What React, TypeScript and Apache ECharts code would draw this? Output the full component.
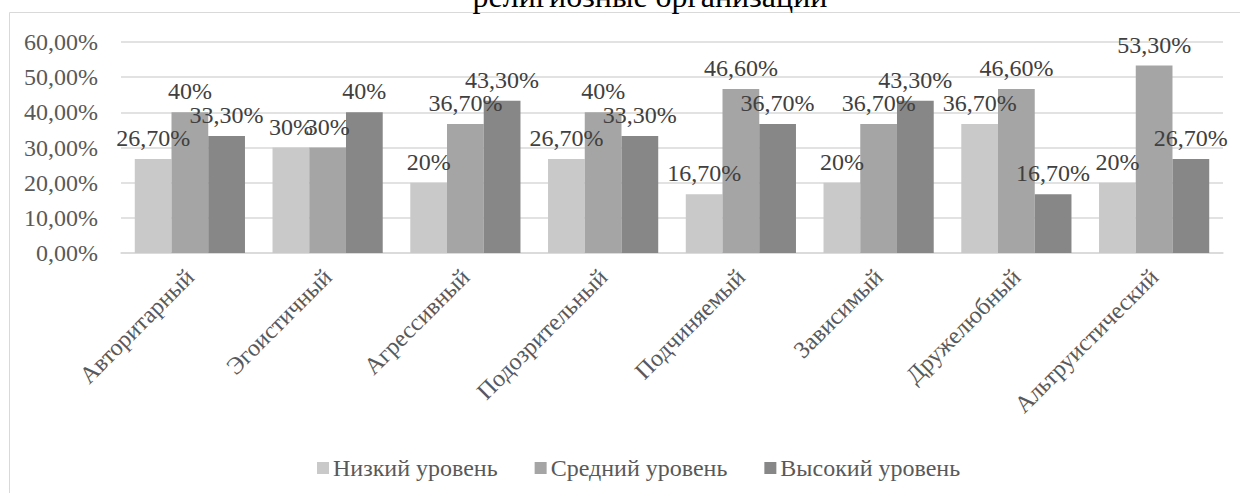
import React, { useEffect, useRef } from "react";
import * as echarts from "echarts";

const categories = [
  "Авторитарный",
  "Эгоистичный",
  "Агрессивный",
  "Подозрительный",
  "Подчиняемый",
  "Зависимый",
  "Дружелюбный",
  "Альтруистический",
];
const seriesNames = ["Низкий уровень", "Средний уровень", "Высокий уровень"];
const lowValues = [26.7, 30, 20, 26.7, 16.7, 20, 36.7, 20];
const midValues = [40, 30, 36.7, 40, 46.6, 36.7, 46.6, 53.3];
const highValues = [33.3, 40, 43.3, 33.3, 36.7, 43.3, 16.7, 26.7];
const titleText = "религиозные организации";

const colors = ["#c9c9c9", "#a5a5a5", "#878787"];
const FONT = "Liberation Serif";

function fmtLabel(v: number): string {
  if (Math.abs(v - Math.round(v)) < 1e-9) return `${Math.round(v)}%`;
  return `${v.toFixed(2).replace(".", ",")}%`;
}

export default function App() {
  const ref = useRef<HTMLDivElement>(null);
  useEffect(() => {
    document.body.style.margin = "0";
    const st = document.createElement("style");
    st.textContent = `#root svg text { font-family: "Liberation Serif", serif !important; }`;
    document.head.appendChild(st);
    if (!ref.current) return;
    const chart = echarts.init(ref.current, null, { renderer: "svg" });
    const data = [lowValues, midValues, highValues];
    chart.setOption({
      animation: false,
      backgroundColor: "#ffffff",
      textStyle: { fontFamily: FONT },
      graphic: [
        {
          type: "rect",
          shape: { x: 9.5, y: 12.5, width: 1300, height: 600 },
          style: { fill: "none", stroke: "#d9d9d9", lineWidth: 1 },
          silent: true,
          z: -10,
        },
        {
          type: "text",
          x: 650,
          y: 12,
          style: {
            text: titleText,
            fontFamily: FONT,
            fontSize: 32,
            fill: "#000000",
            textAlign: "center",
            textVerticalAlign: "bottom",
          },
          silent: true,
        },
      ],
      grid: { left: 121, right: 17, top: 42, bottom: 240, containLabel: false },
      legend: {
        data: seriesNames,
        left: 312,
        top: 451,
        itemWidth: 12,
        itemHeight: 12,
        itemGap: 37,
        icon: "rect",
        textStyle: { fontFamily: FONT, fontSize: 24, color: "#595959", padding: [0, 0, 0, -1] },
      },
      xAxis: {
        type: "category",
        data: categories,
        axisLine: { lineStyle: { color: "#d9d9d9", width: 1.5 } },
        axisTick: { show: false },
        axisLabel: {
          interval: 0,
          rotate: 45,
          margin: 20,
          fontFamily: FONT,
          fontSize: 24,
          color: "#595959",
        },
      },
      yAxis: {
        type: "value",
        min: 0,
        max: 60,
        interval: 10,
        axisLine: { show: false },
        axisTick: { show: false },
        splitLine: { lineStyle: { color: "#d9d9d9", width: 1.5 } },
        axisLabel: {
          margin: 23,
          fontFamily: FONT,
          fontSize: 24,
          color: "#595959",
          formatter: (v: number) => `${v.toFixed(2).replace(".", ",")}%`,
        },
      },
      series: seriesNames.map((name, i) => ({
        name,
        type: "bar",
        data: data[i],
        barGap: "0%",
        barCategoryGap: "20%",
        itemStyle: { color: colors[i] },
        label: {
          show: true,
          position: "top",
          distance: 9,
          fontFamily: FONT,
          fontSize: 24,
          color: "#404040",
          formatter: (p: any) => fmtLabel(p.value),
        },
        labelLayout: { hideOverlap: false },
      })),
    });
    return () => {
      chart.dispose();
      st.remove();
    };
  }, []);
  return <div ref={ref} style={{ width: 1240, height: 493 }} />;
}
